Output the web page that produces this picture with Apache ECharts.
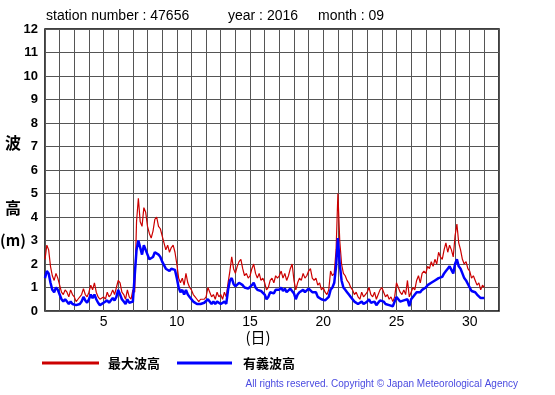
<!DOCTYPE html>
<html><head><meta charset="utf-8">
<script src="https://cdn.jsdelivr.net/npm/echarts@6/dist/echarts.min.js"></script>
<style>html,body{margin:0;padding:0;background:#fff}#c{width:555px;height:395px}</style>
</head><body><div id="c"></div>
<script>
// 3-hourly samples, Sept 1 00:00 .. Oct 1 00:00 (x = day of month)
const stepsPerDay = 8;
const maxWave = [
 2.2,2.8,2.6,1.9,1.5,1.3,1.6,1.4,
 1.1,0.8,0.7,0.9,0.8,0.6,0.9,0.7,
 0.6,0.4,0.5,0.5,0.7,0.95,0.7,0.6,
 0.8,1.1,0.9,1.2,0.8,0.6,0.5,0.5,
 0.6,0.5,0.8,0.6,0.7,0.9,0.7,1.0,
 1.3,1.2,0.8,0.7,0.5,0.9,0.6,0.5,
 0.9,0.8,3.8,4.8,3.8,3.6,4.4,4.2,
 3.6,3.3,3.1,3.4,3.9,4.0,3.6,3.5,
 3.2,2.9,2.6,2.8,2.5,2.7,2.8,2.5,
 2.0,1.4,1.2,1.4,1.1,1.6,1.2,1.0,
 0.9,0.7,0.6,0.5,0.4,0.5,0.45,0.5,
 0.6,1.0,0.8,0.6,0.7,0.5,0.8,0.6,
 0.7,0.5,0.8,0.6,1.2,1.7,2.3,1.8,
 1.6,1.9,2.1,2.2,1.8,1.5,1.6,1.4,
 1.5,1.8,2.0,1.6,1.4,1.6,1.3,1.4,
 1.2,0.9,1.0,1.3,1.4,1.2,1.5,1.4,
 1.5,1.7,1.4,1.6,1.3,1.5,1.8,2.0,
 1.3,0.9,1.2,1.4,1.3,1.6,1.4,1.5,
 1.7,1.8,1.4,1.3,1.4,1.1,1.2,0.9,
 1.0,0.8,0.7,0.9,1.7,1.5,1.6,2.6,
 5.0,3.0,2.0,1.6,1.5,1.3,1.2,1.0,
 0.9,0.7,0.8,0.6,0.5,0.8,0.6,0.7,
 0.8,1.0,0.7,0.6,0.8,0.5,0.7,0.9,
 1.0,0.8,0.6,0.7,0.5,0.6,0.4,0.6,
 1.2,1.0,0.8,0.7,0.9,0.7,1.3,0.6,
 0.8,1.0,0.9,1.3,1.5,1.2,1.6,1.7,
 1.6,1.9,1.8,2.1,1.9,2.2,2.0,2.5,
 2.3,2.2,2.6,2.9,2.5,2.8,2.6,2.3,
 3.2,3.7,2.9,2.6,2.2,2.0,2.1,1.8,
 1.7,1.4,1.5,1.3,1.1,1.2,0.9,1.1,
 1.0
];
const sigWave = [
 1.4,1.7,1.6,1.2,0.9,0.8,1.0,0.9,
 0.7,0.5,0.4,0.5,0.4,0.3,0.4,0.3,
 0.3,0.25,0.3,0.3,0.4,0.6,0.45,0.35,
 0.5,0.7,0.55,0.7,0.5,0.35,0.25,0.3,
 0.35,0.3,0.45,0.35,0.4,0.55,0.45,0.6,
 0.9,0.7,0.5,0.4,0.3,0.5,0.35,0.3,
 0.4,0.35,2.6,3.0,2.7,2.4,2.8,2.6,
 2.4,2.2,2.15,2.3,2.5,2.5,2.4,2.3,
 2.1,1.95,1.8,1.75,1.7,1.8,1.85,1.75,
 1.4,1.0,0.8,0.9,0.7,0.9,0.7,0.6,
 0.5,0.4,0.35,0.3,0.25,0.3,0.3,0.35,
 0.35,0.5,0.45,0.3,0.4,0.3,0.4,0.35,
 0.3,0.25,0.4,0.3,0.9,1.3,1.4,1.15,
 1.05,1.1,1.2,1.25,1.1,1.0,1.0,0.95,
 1.0,1.1,1.2,1.0,0.9,0.95,0.85,0.9,
 0.7,0.5,0.6,0.8,0.85,0.75,0.9,0.85,
 0.9,1.0,0.85,0.95,0.8,0.85,0.95,1.0,
 0.75,0.5,0.7,0.8,0.75,0.9,0.8,0.85,
 0.95,1.0,0.8,0.75,0.8,0.6,0.65,0.5,
 0.55,0.45,0.4,0.6,0.9,1.0,1.2,1.9,
 3.1,2.0,1.3,1.0,0.9,0.8,0.7,0.6,
 0.5,0.4,0.45,0.3,0.25,0.4,0.3,0.35,
 0.4,0.5,0.35,0.3,0.4,0.25,0.35,0.45,
 0.5,0.4,0.3,0.35,0.25,0.3,0.2,0.15,
 0.6,0.5,0.4,0.35,0.45,0.4,0.5,0.2,
 0.5,0.6,0.65,0.8,0.85,0.8,0.9,0.95,
 1.0,1.1,1.05,1.2,1.15,1.3,1.25,1.4,
 1.4,1.45,1.6,1.7,1.8,1.9,1.75,1.6,
 2.0,2.2,1.9,1.8,1.6,1.4,1.3,1.15,
 1.0,0.85,0.9,0.8,0.7,0.75,0.55,0.6,
 0.55
];
const xTickLabels = [5, 10, 15, 20, 25, 30];
const seriesNames = ['最大波高', '有義波高'];
const titleParts = ['station number : 47656', 'year : 2016', 'month : 09'];

const toPairs = arr => arr.map((v, i) => [1 + i / stepsPerDay, v]);

const chart = echarts.init(document.getElementById('c'), null, {renderer: 'canvas'});
const font = 'Liberation Sans, Arial, Helvetica, sans-serif';
chart.setOption({
  animation: false,
  grid: {left: 45, right: 56, top: 29, bottom: 84, show: true, borderColor: '#000', borderWidth: 1.5, backgroundColor: 'transparent'},
  xAxis: {
    type: 'value', min: 1, max: 32, interval: 1,
    axisLine: {show: false}, axisTick: {show: false},
    splitLine: {show: true, lineStyle: {color: '#555', width: 1}},
    axisLabel: {
      margin: 4, fontSize: 14, color: '#000', fontFamily: font,
      formatter: v => xTickLabels.includes(v) ? String(v) : ''
    }
  },
  yAxis: {
    type: 'value', min: 0, max: 12, interval: 1,
    axisLine: {show: false}, axisTick: {show: false},
    splitLine: {show: true, lineStyle: {color: '#555', width: 1}},
    axisLabel: {margin: 7, fontSize: 13, fontWeight: 'bold', color: '#000', fontFamily: font}
  },
  series: [
    {name: seriesNames[0], type: 'line', data: toPairs(maxWave), showSymbol: false,
     lineStyle: {color: '#cc0000', width: 1.2}, itemStyle: {color: '#cc0000'}, z: 2},
    {name: seriesNames[1], type: 'line', data: toPairs(sigWave), showSymbol: false,
     lineStyle: {color: '#0000ff', width: 2.5}, itemStyle: {color: '#0000ff'}, z: 3}
  ],
  graphic: [
    {type: 'text', left: 46, top: 9, style: {text: titleParts[0], font: '14px ' + font, fill: '#000'}},
    {type: 'text', left: 228, top: 9, style: {text: titleParts[1], font: '14px ' + font, fill: '#000'}},
    {type: 'text', left: 318, top: 9, style: {text: titleParts[2], font: '14px ' + font, fill: '#000'}},
    {type: 'text', x: 13, y: 143, style: {text: '波', font: 'bold 16px "Noto Sans CJK JP"', fill: '#000', align: 'center', verticalAlign: 'middle'}},
    {type: 'text', x: 13, y: 208, style: {text: '高', font: 'bold 16px "Noto Sans CJK JP"', fill: '#000', align: 'center', verticalAlign: 'middle'}},
    {type: 'text', x: 13, y: 240, style: {text: '(m)', font: 'bold 15px "Noto Sans CJK JP"', fill: '#000', align: 'center', verticalAlign: 'middle'}},
    {type: 'text', x: 258, y: 337, style: {text: '(日)', font: '15px "Noto Sans CJK JP"', fill: '#000', align: 'center', verticalAlign: 'middle'}},
    {type: 'line', shape: {x1: 42, y1: 363, x2: 99, y2: 363}, style: {stroke: '#cc0000', lineWidth: 3}},
    {type: 'text', x: 108, y: 363, style: {text: seriesNames[0], font: 'bold 13px "Noto Sans CJK JP"', fill: '#000', verticalAlign: 'middle'}},
    {type: 'line', shape: {x1: 177, y1: 363, x2: 232, y2: 363}, style: {stroke: '#0000ff', lineWidth: 3}},
    {type: 'text', x: 243, y: 363, style: {text: seriesNames[1], font: 'bold 13px "Noto Sans CJK JP"', fill: '#000', verticalAlign: 'middle'}},
    {type: 'text', x: 518, y: 384, style: {text: 'All rights reserved. Copyright © Japan Meteorological Agency', font: '10px ' + font, fill: '#4a4ae0', align: 'right', verticalAlign: 'middle'}}
  ]
});
</script></body></html>
